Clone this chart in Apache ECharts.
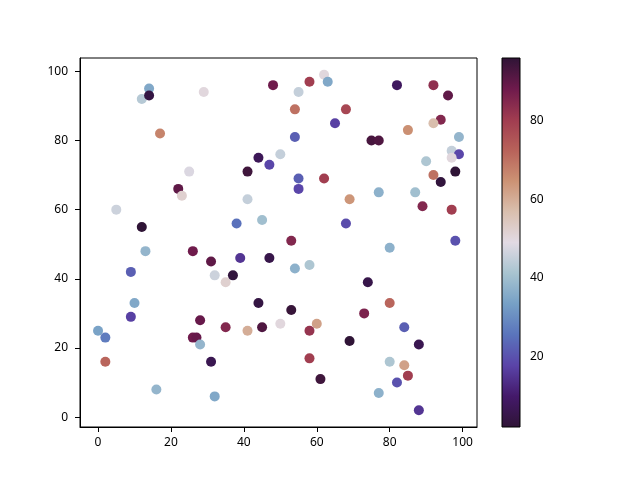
<!DOCTYPE html>
<html>
<head>
<meta charset="UTF-8">
<script src="https://cdn.jsdelivr.net/npm/echarts@6/dist/echarts.min.js"></script>
<title>scatter</title>
</head>
<body style="margin:0;background:#fff">
<div id="main" style="width:640px;height:480px"></div>
<script>
var xs = [14, 12, 14, 29, 48, 17, 44, 47, 50, 25, 41, 58, 62, 63, 55, 54, 68, 65, 54, 75,
          77, 82, 92, 96, 94, 92, 85, 99, 97, 99, 97, 90, 98, 92, 94, 55, 62, 22, 23, 5,
          41, 12, 38, 45, 13, 26, 31, 39, 47, 9, 32, 35, 37, 55, 69, 77, 87, 89, 97, 68,
          53, 98, 80, 54, 58, 74, 80, 10, 9, 0, 2, 2, 16, 32, 28, 26, 27, 28, 31, 35,
          41, 44, 45, 50, 53, 60, 58, 58, 61, 69, 73, 84, 88, 80, 84, 85, 82, 77, 88];
var ys = [95, 92, 93, 94, 96, 82, 75, 73, 76, 71, 71, 97, 99, 97, 94, 89, 89, 85, 81, 80,
          80, 96, 96, 93, 86, 85, 83, 81, 77, 76, 75, 74, 71, 70, 68, 69, 69, 66, 64, 60,
          63, 55, 56, 57, 48, 48, 45, 46, 46, 42, 41, 39, 41, 66, 63, 65, 65, 61, 60, 56,
          51, 51, 49, 43, 44, 39, 33, 33, 29, 25, 23, 16, 8, 6, 28, 23, 23, 21, 16, 26,
          25, 33, 26, 27, 31, 27, 25, 17, 11, 22, 30, 26, 21, 16, 15, 12, 10, 7, 2];
var vals = [35, 43, 4, 50, 88, 67, 7, 18, 45, 48, 94, 80, 50, 35, 45, 70, 78, 17, 22, 93,
            92, 8, 83, 90, 85, 57, 65, 38, 45, 18, 50, 42, 96, 70, 3, 22, 80, 90, 52, 46,
            45, 2, 25, 40, 38, 88, 90, 15, 5, 22, 46, 52, 3, 18, 64, 37, 40, 85, 80, 19,
            85, 20, 37, 37, 42, 5, 72, 35, 17, 34, 27, 72, 38, 35, 89, 88, 89, 38, 6, 85,
            60, 4, 92, 50, 95, 62, 82, 80, 94, 96, 86, 22, 6, 42, 62, 80, 20, 37, 15];
var axisTicks = [0, 20, 40, 60, 80, 100];
var barTicks = [20, 40, 60, 80];

// twilight_shifted, evenly spaced stops
var twilight = ['#2f1436', '#44196a', '#5a44a8', '#5a74bc', '#76a0c6', '#a8c4d0', '#e2dae4',
                '#d9bfae', '#cc9274', '#b8625a', '#a03c50', '#6e1a4c', '#2f1436'];

var points = xs.map(function (x, i) { return [x, ys[i], vals[i]]; });
var vMin = Math.min.apply(null, vals), vMax = Math.max.apply(null, vals);

// gradient for the colour bar, bottom = vMin
var barStops = twilight.map(function (c, i) {
    return {offset: i / (twilight.length - 1), color: c};
});
var bar = {x: 502, y: 58, width: 18, height: 369};

function pad(v) { return (v.max - v.min) * 0.05; }
var font = {color: '#000', fontSize: 12, fontFamily: 'Noto Sans'};
var tickStyle = {length: 5, lineStyle: {color: '#000', width: 1}};

var myChart = echarts.init(document.getElementById('main'), null, {renderer: 'canvas'});
var option = {
    animation: false,
    backgroundColor: '#fff',
    grid: [
        {left: 80, top: 58, width: 397, height: 369, show: true, borderColor: '#000', borderWidth: 1},
        {left: bar.x, top: bar.y, width: bar.width, height: bar.height}
    ],
    xAxis: [
        {
            type: 'value', gridIndex: 0,
            min: function (v) { return v.min - pad(v); },
            max: function (v) { return v.max + pad(v); },
            splitLine: {show: false},
            axisLine: {onZero: false, lineStyle: {color: '#000'}},
            axisTick: Object.assign({customValues: axisTicks}, tickStyle),
            axisLabel: Object.assign({customValues: axisTicks, margin: 10}, font)
        },
        {type: 'value', gridIndex: 1, show: false, min: 0, max: 1}
    ],
    yAxis: [
        {
            type: 'value', gridIndex: 0,
            min: function (v) { return v.min - pad(v); },
            max: function (v) { return v.max + pad(v); },
            splitLine: {show: false},
            axisLine: {show: true, onZero: false, lineStyle: {color: '#000'}},
            axisTick: Object.assign({show: true, customValues: axisTicks}, tickStyle),
            axisLabel: Object.assign({customValues: axisTicks, margin: 12}, font)
        },
        {
            type: 'value', gridIndex: 1, position: 'right',
            min: vMin, max: vMax,
            splitLine: {show: false},
            axisLine: {show: false},
            axisTick: Object.assign({show: true, customValues: barTicks}, tickStyle),
            axisLabel: Object.assign({customValues: barTicks, margin: 10}, font)
        }
    ],
    visualMap: {
        type: 'continuous',
        show: false,
        min: vMin, max: vMax,
        dimension: 2,
        seriesIndex: 0,
        inRange: {color: twilight}
    },
    graphic: [
        {type: 'rect', z: 1, silent: true,
         shape: bar,
         style: {fill: new echarts.graphic.LinearGradient(0, 1, 0, 0, barStops)}},
        {type: 'rect', z: 100, silent: true,
         shape: bar,
         style: {fill: 'none', stroke: '#000', lineWidth: 1}}
    ],
    series: [
        {
            type: 'scatter',
            xAxisIndex: 0, yAxisIndex: 0,
            symbolSize: 10,
            itemStyle: {opacity: 1},
            data: points
        }
    ]
};
myChart.setOption(option);
</script>
</body>
</html>
